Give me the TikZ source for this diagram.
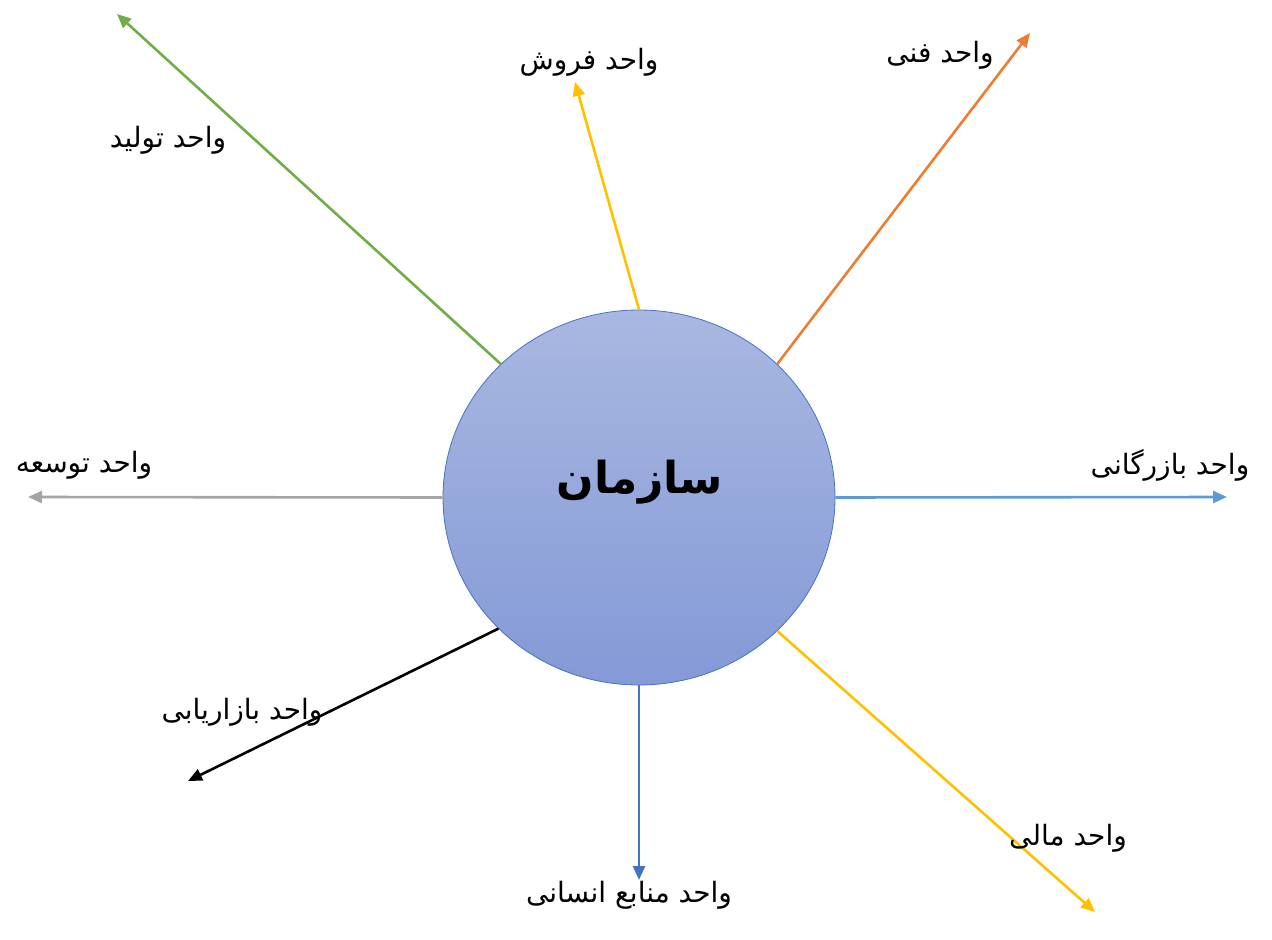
\documentclass[tikz,border=0pt]{standalone}
\usepackage{fontspec}
\usepackage{tikz}
\usetikzlibrary{arrows.meta,shapes.geometric}
\TeXXeTstate=1
\newfontfamily\arabicfont[Script=Arabic]{DejaVu Sans}
\definecolor{orgtop}{HTML}{A9B8E1}
\definecolor{orgbottom}{HTML}{8499D6}
\definecolor{orgline}{HTML}{4472C4}
\definecolor{ugreen}{HTML}{70AD47}
\definecolor{uyellow}{HTML}{FFC000}
\definecolor{uorange}{HTML}{ED7D31}
\definecolor{ulightblue}{HTML}{5B9BD5}
\definecolor{ugray}{HTML}{A5A5A5}
\definecolor{ublue}{HTML}{4472C4}
\tikzset{
% center ellipse, unit arrows and unit labels
org node/.style={ellipse,draw=orgline,line width=0.4pt,top color=orgtop,bottom color=orgbottom,
  minimum width=196pt,minimum height=187.5pt,inner sep=0},
unit arrow/.style={line width=1.3pt,-{Triangle[length=7pt,width=6pt]}},
unit label/.style={font=\arabicfont\fontsize{14}{16}\selectfont,inner sep=0}
}

\begin{document}
\begin{tikzpicture}[x=0.5pt,y=-0.5pt]
        \useasboundingbox (0,0) rectangle (1272,940);
        % The organisation
        \node(org)[org node] at (639,497.5){};
        \node(orgtxt) at (640,482){\arabicfont\bfseries\fontsize{22}{26}\selectfont\beginR سازمان\endR};
        % Arrow ends
        \coordinate(tolid) at (117,14);
        \coordinate(forush) at (575,82);
        \coordinate(fanni) at (1030,33);
        \coordinate(bazargani) at (1227,497);
        \coordinate(towse) at (28,497);
        \coordinate(bazaryabi) at (188,781);
        \coordinate(ensani) at (639,880);
        \coordinate(mali) at (1095,912);
        % The arrows
        \draw[unit arrow,ugreen](org.136.4)--(tolid);
        \draw[unit arrow,uyellow](org.90)--(forush);
        \draw[unit arrow,uorange](org.44)--(fanni);
        \draw[unit arrow,ulightblue](org.0)--(bazargani);
        \draw[unit arrow,ugray](org.180)--(towse);
        \draw[unit arrow,black](org.223.6)--(bazaryabi);
        \draw[unit arrow,ublue](org.270)--(ensani);
        \draw[unit arrow,uyellow](org.316.4)--(mali);
        % The labels
        \node(ltolid)[unit label] at (168,140){\beginR واحد تولید\endR};
        \node(lforush)[unit label] at (589,62){\beginR واحد فروش\endR};
        \node(lfanni)[unit label] at (940,55){\beginR واحد فنی\endR};
        \node(lbazargani)[unit label] at (1170,465){\beginR واحد بازرگانی\endR};
        \node(ltowse)[unit label] at (84,465){\beginR واحد توسعه\endR};
        \node(lbazaryabi)[unit label] at (242,712){\beginR واحد بازاریابی\endR};
        \node(lensani)[unit label] at (629,895){\beginR واحد منابع انسانی\endR};
        \node(lmali)[unit label] at (1068,838){\beginR واحد مالی\endR};
      \end{tikzpicture}
\end{document}
